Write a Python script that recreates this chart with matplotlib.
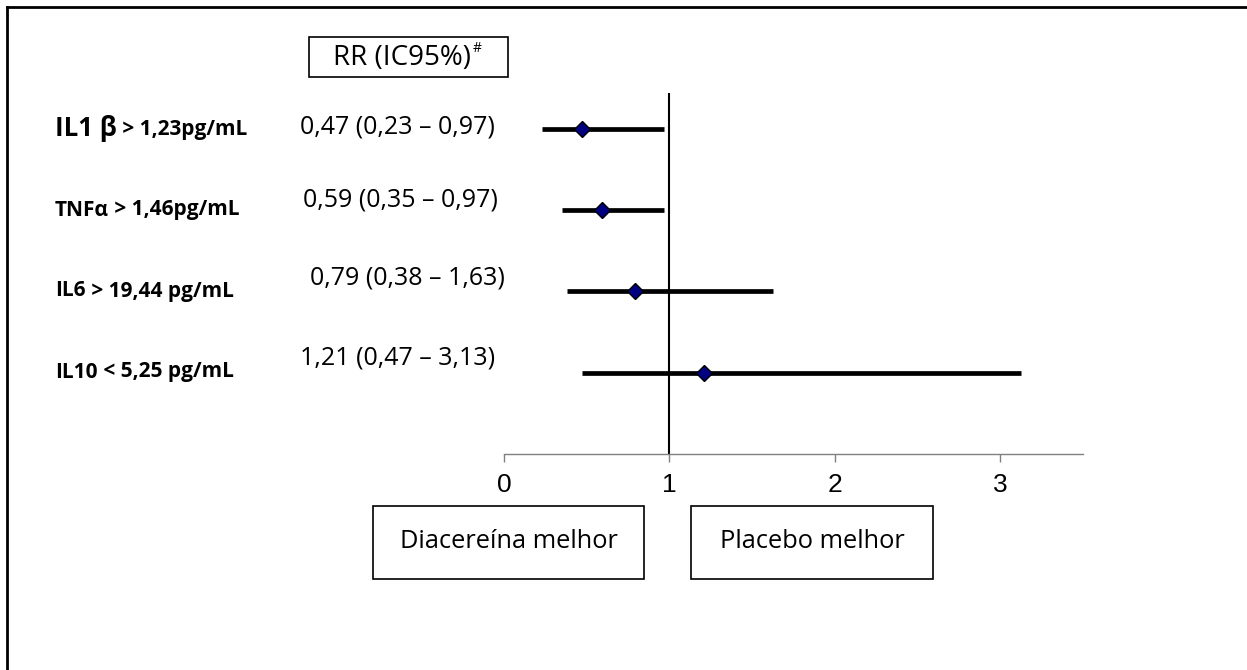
import matplotlib
matplotlib.use('Agg')
import matplotlib.pyplot as plt
from matplotlib.lines import Line2D
from matplotlib.patches import Rectangle

# data
label_head = ['IL1 β', 'TNFα', 'IL6', 'IL10']
label_tail = [' > 1,23pg/mL', ' > 1,46pg/mL', ' > 19,44 pg/mL', ' < 5,25 pg/mL']
rr = [0.47, 0.59, 0.79, 1.21]
ci_low = [0.23, 0.35, 0.38, 0.47]
ci_high = [0.97, 0.97, 1.63, 3.13]
xticks = [0, 1, 2, 3]
rows = [4, 3, 2, 1]

W, H = 1247, 670
font = ['Open Sans', 'DejaVu Sans']


def fx(x):
    return x / W


def fy(y):
    return 1 - y / H


def fmt(v):
    return f"{v:.2f}".replace('.', ',')


fig = plt.figure(figsize=(W / 100, H / 100), dpi=100)
fig.patch.set_facecolor('white')

# forest plot axes: x=0 at px 504, 165.3 px per unit, axis line at px 454
ax = fig.add_axes([fx(504), fy(454), 3.5 * 165.3 / W, 361 / H])
ax.set_xlim(0, 3.5)
ax.set_ylim(0, 4.44)
ax.set_facecolor('none')
for s in ['top', 'right', 'left']:
    ax.spines[s].set_visible(False)
ax.spines['bottom'].set_color('#808080')
ax.spines['bottom'].set_linewidth(1)
ax.set_yticks([])
ax.set_xticks(xticks)
ax.set_xticklabels([str(t) for t in xticks], fontsize=19, family=['Liberation Sans', 'DejaVu Sans'])
ax.tick_params(axis='x', direction='out', length=6, width=1, color='#808080', pad=8)

ax.axvline(1, color='black', lw=1.5, zorder=2)
ax.hlines(rows, ci_low, ci_high, color='black', lw=3.4, zorder=3)
ax.plot(rr, rows, linestyle='none', marker='D', markersize=8,
        markerfacecolor='#000080', markeredgecolor='black', markeredgewidth=1, zorder=4)

renderer = fig.canvas.get_renderer()

# row labels and RR text
row_px = [129, 210, 291, 372]
val_dy = [-2, -10, -13, -14]
val_x = [300, 303, 310, 300]
for i in range(4):
    size = 18.5 if i == 0 else 15
    t = fig.text(fx(55), fy(row_px[i]), label_head[i], fontsize=size, fontweight='bold',
                 family=font, ha='left', va='center')
    bb = t.get_window_extent(renderer)
    fig.text(bb.x1 / W, fy(row_px[i]), label_tail[i], fontsize=15, fontweight='bold',
             family=font, ha='left', va='center')
    txt = f"{fmt(rr[i])} ({fmt(ci_low[i])} – {fmt(ci_high[i])})"
    fig.text(fx(val_x[i]), fy(row_px[i] + val_dy[i]), txt, fontsize=18, family=font,
             ha='left', va='center')

# header box
fig.add_artist(Rectangle((fx(309), fy(77)), fx(508) - fx(309), fy(37) - fy(77),
                         transform=fig.transFigure, fill=False, edgecolor='black', lw=1.2))
t = fig.text(fx(333), fy(58), 'RR (IC95%)', fontsize=20, family=font, ha='left', va='center')
bb = t.get_window_extent(renderer)
fig.text(bb.x1 / W + 0.001, fy(48), '#', fontsize=10, family=font, ha='left', va='center')

# bottom boxes
for x0, x1, s in [(373, 644, 'Diacereína melhor'), (691, 933, 'Placebo melhor')]:
    fig.add_artist(Rectangle((fx(x0), fy(579)), fx(x1) - fx(x0), fy(506) - fy(579),
                             transform=fig.transFigure, fill=False, edgecolor='black', lw=1.2))
    fig.text(fx((x0 + x1) / 2), fy(541), s, fontsize=18.3, family=font, ha='center', va='center')

# frame lines on top and left
fig.add_artist(Line2D([fx(7), 1], [fy(7), fy(7)], transform=fig.transFigure, color='black', lw=2))
fig.add_artist(Line2D([fx(7), fx(7)], [fy(7), 0], transform=fig.transFigure, color='black', lw=2))

fig.savefig('out.png', dpi=100)
